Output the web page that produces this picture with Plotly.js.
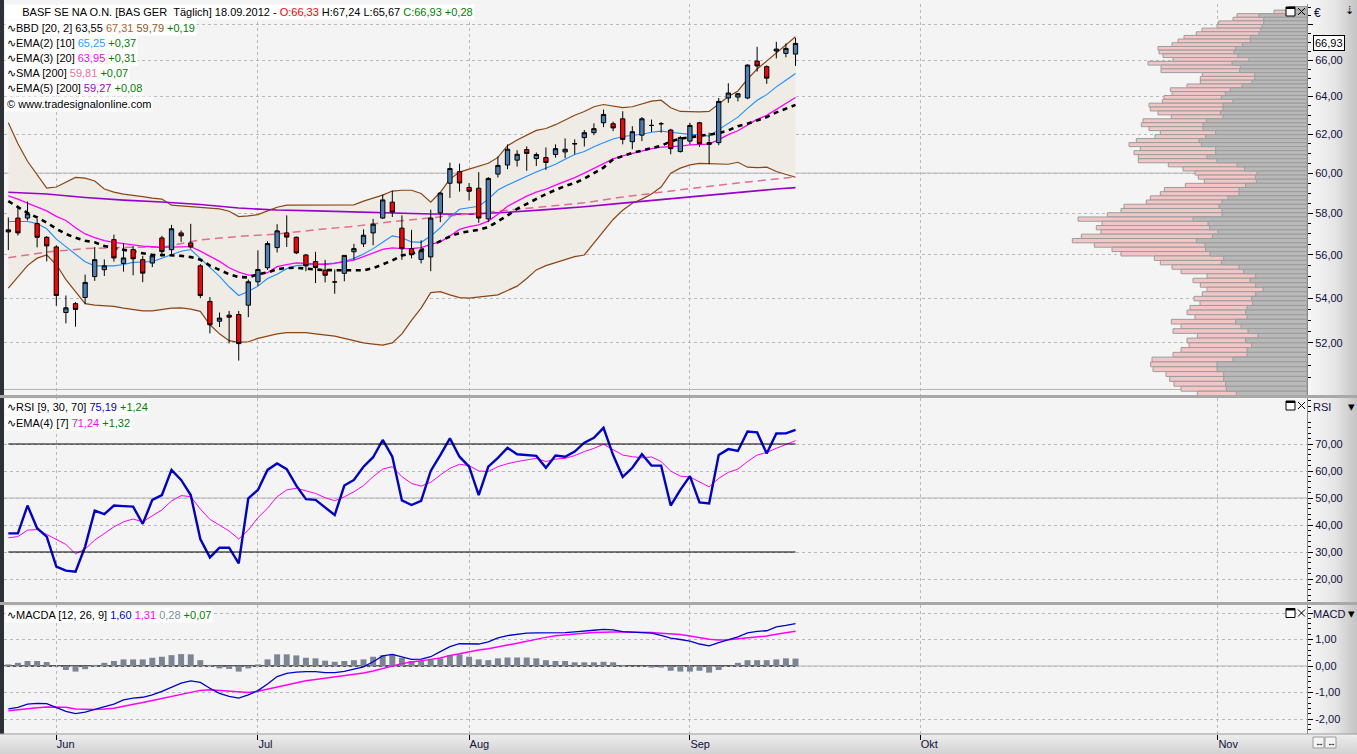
<!DOCTYPE html>
<html><head><meta charset="utf-8">
<script src="https://cdn.plot.ly/plotly-3.0.1.min.js"></script>
<style>
html,body{margin:0;padding:0;width:1357px;height:754px;overflow:hidden;background:#f4f4f4;}
#bgLeft{position:absolute;left:0;top:0;width:4px;height:754px;background:#2d3135;}
#bgRight{position:absolute;left:1307px;top:0;width:50px;height:734px;background:linear-gradient(to right,#f7f7f7,#e6e6e6 55%,#c4c4c4);}
#bgBottom{position:absolute;left:0;top:734px;width:1357px;height:20px;background:linear-gradient(to bottom,#eeeeee,#d2d2d2);}
#chart{position:absolute;left:0;top:0;width:1357px;height:754px;}
</style></head>
<body>
<div id="bgLeft"></div><div id="bgRight"></div><div id="bgBottom"></div>
<div id="chart"></div>
<script>
// ---------- data ----------
const open = [57.20,57.77,57.77,57.50,56.84,56.38,53.35,53.75,54.03,54.99,
 55.31,56.73,55.60,56.26,55.78,55.62,56.81,56.25,57.05,56.57,
 55.49,53.85,52.96,53.23,53.26,53.68,54.75,55.40,56.35,57.05,
 56.84,56.00,55.69,55.29,54.74,55.14,56.15,56.53,57.05,57.77,
 58.55,57.28,56.30,55.79,55.91,58.02,59.49,60.07,59.28,59.24,
 57.73,59.95,60.41,60.66,61.20,60.74,60.79,60.95,61.08,61.49,
 61.82,62.08,62.60,62.55,62.81,61.61,61.95,62.46,62.55,62.22,
 61.10,61.64,62.60,61.56,61.56,63.92,63.97,63.92,65.94,65.63,
 66.50,66.37,66.33];
const high = [57.80,58.35,58.58,57.73,56.90,56.46,54.12,53.82,55.08,56.38,
 55.79,56.97,56.57,56.42,55.96,56.05,56.91,57.44,57.17,57.49,
 55.57,54.05,53.35,53.42,53.42,54.85,56.22,56.65,57.47,57.90,
 56.88,56.05,56.15,55.77,55.32,56.00,56.53,57.22,57.73,58.93,
 59.12,57.90,57.20,56.70,58.18,59.05,60.53,60.48,59.50,60.05,
 59.80,60.85,61.47,61.17,61.37,61.05,61.31,61.47,61.78,61.73,
 62.22,62.57,63.30,62.66,63.21,62.42,62.90,62.77,62.64,62.28,
 61.90,62.60,62.65,62.08,63.92,64.72,64.20,65.75,66.74,65.70,
 67.02,66.93,67.24];
const low = [56.23,56.93,57.65,56.36,55.70,53.66,52.86,52.72,53.73,54.79,
 55.02,55.69,55.22,55.05,54.73,55.43,55.91,56.05,56.62,56.30,
 54.00,52.42,52.70,51.98,51.23,53.14,54.55,55.30,56.12,56.38,
 56.04,55.24,54.69,54.72,54.20,54.77,55.77,56.38,56.46,57.73,
 57.82,55.77,55.84,55.60,55.24,57.57,58.76,59.07,58.63,57.54,
 57.57,59.78,60.20,60.33,60.12,60.36,60.16,60.79,60.76,60.96,
 61.36,61.95,62.37,62.16,61.47,61.22,61.64,62.12,62.08,60.96,
 61.05,61.47,61.34,60.45,61.43,63.66,63.74,63.86,65.36,64.69,
 66.09,66.15,65.67];
const close = [57.10,57.05,57.98,56.84,56.43,54.12,53.56,53.49,54.72,55.78,
 55.49,55.86,55.86,55.82,55.15,55.96,56.16,57.25,56.91,56.38,
 54.12,52.80,53.10,53.14,51.97,54.75,55.32,56.54,57.15,56.85,
 56.10,55.49,55.41,55.05,54.74,55.98,56.30,56.94,57.47,58.66,
 58.06,56.30,56.01,56.20,57.77,59.00,60.23,59.50,59.09,57.77,
 59.73,60.39,61.22,60.96,61.00,60.95,60.54,61.25,61.22,61.51,
 62.08,62.29,63.04,62.33,61.73,62.13,62.81,62.46,62.55,61.25,
 61.82,62.46,61.50,61.47,63.74,64.19,64.15,65.72,65.67,65.00,
 66.61,66.65,66.93];

const bbUpper = [62.6,61.5,60.6,59.95,59.25,59.3,59.55,59.78,59.75,59.6,
 59.2,59.05,58.95,58.9,58.82,58.75,58.7,58.4,58.36,58.32,
 58.3,58.26,58.22,58.1,57.84,57.88,57.94,58.12,58.3,58.4,
 58.4,58.4,58.4,58.4,58.4,58.4,58.42,58.6,58.75,58.9,
 59.1,59.14,59.14,58.98,58.55,59.04,59.7,60.05,60.2,60.35,
 60.5,60.8,61.4,61.7,61.95,62.2,62.3,62.5,62.75,63.0,
 63.2,63.45,63.57,63.5,63.4,63.45,63.6,63.75,63.8,63.4,
 63.2,63.18,63.18,63.2,63.6,64.0,64.3,64.95,65.5,65.95,
 66.4,66.85,67.31];
const bbLower = [54.46,55.0,55.5,55.85,56.0,55.55,54.85,54.3,53.75,53.68,
 53.65,53.63,53.55,53.48,53.42,53.42,53.48,53.55,53.56,53.5,
 53.4,52.8,52.4,52.1,52.02,52.05,52.2,52.3,52.4,52.45,
 52.45,52.45,52.4,52.35,52.3,52.2,52.1,52.0,51.95,51.9,
 52.0,52.4,53.0,53.55,54.25,54.3,54.15,54.02,54.0,54.05,
 54.1,54.15,54.35,54.55,54.9,55.3,55.5,55.65,55.8,55.92,
 56.0,56.55,57.15,57.7,58.15,58.5,58.7,58.95,59.3,60.0,
 60.25,60.42,60.49,60.47,60.45,60.45,60.55,60.3,60.28,60.3,
 60.08,59.95,59.79];
const bbMid = [58.6,58.3,58.02,57.8,57.55,57.25,57.0,56.82,56.68,56.6,
 56.43,56.33,56.25,56.18,56.08,56.0,56.0,55.99,55.96,55.9,
 55.78,55.5,55.3,55.1,54.97,54.95,55.1,55.18,55.33,55.39,
 55.4,55.35,55.32,55.29,55.29,55.29,55.28,55.28,55.38,55.55,
 55.74,55.98,56.06,56.22,56.44,56.66,56.88,57.05,57.13,57.2,
 57.33,57.6,57.9,58.22,58.47,58.7,58.95,59.15,59.35,59.5,
 59.72,60.0,60.28,60.7,60.88,61.03,61.15,61.27,61.4,61.62,
 61.77,61.84,61.9,61.97,62.05,62.2,62.42,62.55,62.72,62.9,
 63.15,63.36,63.55];
const ema10 = [57.6,57.6,57.6,57.5,57.25,56.75,56.38,56.0,55.68,55.49,
 55.49,55.49,55.55,55.65,55.67,55.69,55.85,56.0,56.18,56.26,
 55.84,55.45,55.0,54.52,54.12,54.3,54.55,54.9,55.1,55.35,
 55.5,55.53,55.57,55.6,55.62,55.7,55.84,56.05,56.3,56.6,
 56.91,56.82,56.62,56.6,56.9,57.3,57.8,58.2,58.28,58.35,
 58.7,59.15,59.4,59.6,59.84,60.05,60.25,60.45,60.7,60.95,
 61.1,61.35,61.55,61.75,61.88,61.93,62.0,62.1,62.16,62.1,
 62.03,61.99,61.97,61.9,62.24,62.59,62.9,63.36,63.8,64.1,
 64.52,64.88,65.25];
const ema20 = [58.86,58.7,58.5,58.3,58.12,57.85,57.65,57.3,57.0,56.82,
 56.68,56.6,56.53,56.46,56.42,56.39,56.36,56.37,56.4,56.4,
 56.18,55.95,55.7,55.4,55.2,55.06,55.08,55.17,55.45,55.55,
 55.63,55.6,55.56,55.55,55.6,55.68,55.76,55.92,56.1,56.27,
 56.34,56.3,56.3,56.35,56.5,56.62,56.9,57.22,57.35,57.44,
 57.62,57.95,58.35,58.6,58.85,59.05,59.2,59.4,59.58,59.77,
 60.0,60.25,60.5,60.72,60.88,61.0,61.15,61.25,61.33,61.35,
 61.38,61.44,61.46,61.48,61.72,61.98,62.18,62.48,62.78,62.99,
 63.32,63.64,63.95];
const slowIdx = [0,4,8,12,16,20,24,28,32,36,40,44,48,52,56,60,64,68,72,76,80,82];
const sma200 = [55.87,56.14,56.3,56.36,56.36,56.72,56.88,57.0,57.2,57.37,57.6,57.78,57.95,58.12,58.33,58.52,58.8,59.05,59.28,59.5,59.7,59.81];
const ema200 = [59.04,58.95,58.78,58.65,58.56,58.43,58.26,58.16,58.12,58.06,58.02,57.97,57.96,58.05,58.18,58.32,58.5,58.68,58.86,59.04,59.2,59.27];

const rsi = [36.9,36.9,47.2,38.8,35.7,24.6,23.1,22.7,32.0,45.3,
 44.0,47.2,47.0,46.8,40.4,49.3,51.1,60.4,56.7,51.1,
 34.8,28.0,31.6,31.6,25.8,49.9,53.0,60.4,62.8,60.7,
 54.6,49.6,49.3,46.4,43.7,54.6,56.7,61.6,65.1,71.5,
 65.3,49.1,47.4,48.9,60.0,65.9,72.1,65.3,61.6,51.1,
 61.6,64.9,68.6,66.2,65.9,65.6,61.2,65.7,65.3,67.2,
 70.5,72.3,76.0,65.9,57.8,61.2,66.2,62.0,62.0,47.2,
 53.0,58.1,48.4,48.0,65.9,68.1,67.4,74.6,74.3,66.5,
 73.9,73.95,75.19];
const rsiEma = [35.3,35.7,38.1,38.3,36.5,34.7,32.8,29.3,31.1,34.4,
 36.8,39.3,41.2,42.2,41.2,43.5,45.6,48.9,50.9,50.5,
 45.9,42.1,40.0,37.8,34.8,38.1,42.7,46.2,50.5,53.0,
 53.6,52.6,51.7,50.1,49.0,50.4,52.3,54.6,57.9,60.7,
 61.6,57.9,55.4,54.4,55.8,58.5,61.0,62.5,62.0,60.0,
 59.8,61.6,62.7,63.5,64.0,64.7,63.5,64.4,64.7,65.7,
 67.2,68.4,69.9,68.0,65.9,65.3,64.9,65.2,63.5,60.0,
 58.1,57.8,55.8,54.1,57.3,59.5,60.7,63.5,65.9,66.9,
 68.4,69.92,71.24];

const macd = [-1.62,-1.56,-1.44,-1.41,-1.42,-1.56,-1.71,-1.80,-1.74,-1.64,
 -1.55,-1.44,-1.28,-1.21,-1.18,-1.09,-0.96,-0.81,-0.65,-0.56,
 -0.62,-0.84,-1.03,-1.15,-1.21,-1.09,-0.93,-0.68,-0.40,-0.28,
 -0.23,-0.21,-0.21,-0.25,-0.25,-0.20,-0.11,-0.03,0.16,0.38,
 0.44,0.35,0.25,0.26,0.35,0.54,0.73,0.84,0.84,0.83,
 0.91,1.06,1.15,1.20,1.24,1.25,1.25,1.25,1.26,1.29,
 1.31,1.35,1.38,1.36,1.30,1.28,1.26,1.24,1.16,1.05,
 1.00,0.94,0.83,0.76,0.88,0.98,1.10,1.25,1.31,1.33,
 1.48,1.53,1.60];
const signal = [-1.69,-1.65,-1.60,-1.58,-1.55,-1.55,-1.56,-1.62,-1.64,-1.64,
 -1.62,-1.59,-1.52,-1.46,-1.38,-1.30,-1.22,-1.16,-1.08,-0.99,
 -0.92,-0.90,-0.92,-0.95,-0.97,-1.00,-0.95,-0.87,-0.80,-0.71,
 -0.64,-0.56,-0.51,-0.46,-0.42,-0.38,-0.31,-0.26,-0.19,-0.09,
 0.01,0.09,0.15,0.21,0.25,0.30,0.40,0.46,0.54,0.60,
 0.65,0.71,0.79,0.86,0.94,1.01,1.08,1.14,1.18,1.21,
 1.24,1.26,1.28,1.28,1.28,1.28,1.28,1.26,1.24,1.21,
 1.19,1.13,1.06,1.01,0.98,0.99,1.03,1.06,1.10,1.13,
 1.20,1.26,1.31];
const hist = [0.06,0.12,0.19,0.19,0.15,-0.01,-0.15,-0.21,-0.12,0.04,
 0.12,0.19,0.25,0.25,0.25,0.31,0.35,0.41,0.45,0.44,
 0.22,0.04,-0.09,-0.11,-0.21,-0.09,0.06,0.25,0.44,0.44,
 0.40,0.31,0.29,0.20,0.16,0.19,0.22,0.25,0.35,0.41,
 0.44,0.31,0.19,0.19,0.25,0.29,0.41,0.44,0.35,0.25,
 0.22,0.29,0.32,0.32,0.32,0.29,0.22,0.19,0.19,0.14,
 0.14,0.14,0.16,0.14,0.04,0.00,0.00,-0.06,-0.06,-0.18,
 -0.21,-0.21,-0.18,-0.25,-0.15,0.00,0.12,0.22,0.22,0.22,
 0.25,0.29,0.28];

// volume profile: bins from the top (price ~68.94) down in steps of ~0.208
const profileTop = 68.94, profileStep = 0.2078;
const volTotal = [54,99,210,222,265,270,315,332,369,387,405,447,444,432,402,477,438,438,314,320,
 320,360,410,405,429,434,474,470,447,407,492,497,474,440,456,512,534,500,519,506,
 506,416,372,336,326,308,365,428,440,470,482,549,558,599,687,615,632,618,677,704,
 638,585,558,458,440,405,378,300,342,320,300,314,339,321,351,360,336,407,378,402,
 329,360,354,378,402,465,469,462,423,412,399,378,329];
const volDown = [40,62,144,130,130,135,139,144,170,170,194,215,219,207,174,225,200,202,157,157,
 165,195,230,245,257,222,252,252,260,252,302,312,312,274,304,324,317,274,274,300,
 270,210,187,150,155,152,184,204,204,237,255,264,255,255,342,297,292,267,284,332,
 306,304,291,250,257,204,190,154,171,154,132,154,166,163,180,184,180,214,198,177,
 147,184,166,180,180,222,270,270,250,250,244,242,212];

const monthPos = [5,26,48,71,95,126];
const monthLbl = ['Jun','Jul','Aug','Sep','Okt','Nov'];
const priceTicks = [52,54,56,58,60,62,64,66,68];
const rsiTicks = [20,30,40,50,60,70];
const macdTicks = [-2,-1,0,1,2];

// ---------- geometry ----------
const W=1357,H=754,ML=4,MR=50,MT=4,MB=20;
const PW=W-ML-MR, PH=H-MT-MB;
const px = x => (x-ML)/PW;
const py = y => (H-MB-y)/PH;
const n = close.length;
const idx = close.map((_,i)=>i);
const fmt = v => (v<0?'-':'')+Math.abs(v).toFixed(2).replace('.',',');
const L10 = Math.log10;
const priceRange = [L10(49.767), L10(69.19)];
const xRange = [-0.45,135.28];

const FONT = 'Liberation Sans, Arial, sans-serif';
const AX = '#10103a';

// ---------- traces ----------
const traces = [];
traces.push({type:'scatter',mode:'lines',x:idx,y:bbLower,xaxis:'x',yaxis:'y',line:{color:'#8b4513',width:1.2},hoverinfo:'skip'});
traces.push({type:'scatter',mode:'lines',x:idx,y:bbUpper,xaxis:'x',yaxis:'y',fill:'tonexty',fillcolor:'#efebe5',line:{color:'#8b4513',width:1.2},hoverinfo:'skip'});
traces.push({type:'scatter',mode:'lines',x:slowIdx,y:ema200,xaxis:'x',yaxis:'y',line:{color:'#9a00cc',width:1.6},hoverinfo:'skip'});
traces.push({type:'scatter',mode:'lines',x:slowIdx,y:sma200,xaxis:'x',yaxis:'y',line:{color:'#e06f90',width:1.5,dash:'8px,5px'},hoverinfo:'skip'});
traces.push({type:'scatter',mode:'lines',x:idx,y:ema10,xaxis:'x',yaxis:'y',line:{color:'#1e90ff',width:1.1},hoverinfo:'skip'});
traces.push({type:'scatter',mode:'lines',x:idx,y:ema20,xaxis:'x',yaxis:'y',line:{color:'#ff00ff',width:1.3},hoverinfo:'skip'});
traces.push({type:'scatter',mode:'lines',x:idx,y:bbMid,xaxis:'x',yaxis:'y',line:{color:'#000000',width:2.6,dash:'5px,4.6px'},hoverinfo:'skip'});
// candles on an overlay subplot so they sit above the band fill
traces.push({type:'candlestick',x:idx,open:open,high:high,low:low,close:close,xaxis:'x3',yaxis:'y5',
  increasing:{line:{color:'#000000',width:1},fillcolor:'#4a80b4'},
  decreasing:{line:{color:'#000000',width:1},fillcolor:'#ff0000'},
  whiskerwidth:0,hoverinfo:'skip'});

// RSI
traces.push({type:'scatter',mode:'lines',x:idx,y:rsiEma,xaxis:'x',yaxis:'y2',line:{color:'#ff00ff',width:1},hoverinfo:'skip'});
traces.push({type:'scatter',mode:'lines',x:idx,y:rsi,xaxis:'x',yaxis:'y2',line:{color:'#0000cc',width:2.4},hoverinfo:'skip'});

// MACD
traces.push({type:'bar',x:idx,y:hist,xaxis:'x',yaxis:'y3',marker:{color:'#7b8593',line:{width:0}},width:0.62,hoverinfo:'skip'});
traces.push({type:'scatter',mode:'lines',x:idx,y:signal,xaxis:'x',yaxis:'y3',line:{color:'#ff00ff',width:1.5},hoverinfo:'skip'});
traces.push({type:'scatter',mode:'lines',x:idx,y:macd,xaxis:'x',yaxis:'y3',line:{color:'#0000cc',width:1.3},hoverinfo:'skip'});

// volume profile (overlay axes: x2 reversed, y4 = log10 price, linear)
const binC = volTotal.map((_,k)=>profileTop - k*profileStep);
const binY = binC.map(c=>(L10(c+profileStep*0.5)+L10(c-profileStep*0.5))/2);
const binW = binC.map(c=>L10(c+profileStep*0.5)-L10(c-profileStep*0.5));
traces.push({type:'bar',orientation:'h',x:volTotal,y:binY,width:binW,xaxis:'x2',yaxis:'y4',
  marker:{color:'#f2c6c6',line:{color:'#9c9c9c',width:1}},hoverinfo:'skip'});
traces.push({type:'bar',orientation:'h',x:volDown,y:binY,width:binW,xaxis:'x2',yaxis:'y4',
  marker:{color:'#b9b9b9',line:{color:'#9c9c9c',width:1}},hoverinfo:'skip'});

// ---------- minor ticks ----------
const minorP=[]; for(let v=50;v<=69;v+=0.5) if(v%2!==0) minorP.push(v);
const minorR=[]; for(let v=12;v<=86;v+=2) if(v%10!==0) minorR.push(v);
const minorM=[]; for(let v=-2.4;v<=2.3;v+=0.2){const r=Math.round(v*10)/10; if(Math.abs(r-Math.round(r))>0.01) minorM.push(r);}

// ---------- shapes ----------
const shapes = [];
[50,60].forEach(v=>shapes.push({type:'line',xref:'paper',yref:'y4',x0:0,x1:1,y0:L10(v),y1:L10(v),line:{color:'#b3b3b3',width:1},layer:'below'}));
shapes.push({type:'line',xref:'paper',yref:'y2',x0:0,x1:1,y0:50,y1:50,line:{color:'#b3b3b3',width:1},layer:'below'});
shapes.push({type:'line',xref:'paper',yref:'y3',x0:0,x1:1,y0:0,y1:0,line:{color:'#b3b3b3',width:1},layer:'below'});
[30,70].forEach(v=>shapes.push({type:'line',xref:'x',yref:'y2',x0:idx[0],x1:idx[n-1],y0:v,y1:v,line:{color:'#000000',width:1.2}}));
shapes.push({type:'line',xref:'x',yref:'y3',x0:xRange[0],x1:idx[n-1],y0:0,y1:0,line:{color:'#595959',width:2},layer:'below'});
[[395,398],[602,605]].forEach(([a,b])=>shapes.push({type:'rect',xref:'paper',yref:'paper',x0:px(0),x1:px(W),y0:py(b),y1:py(a),fillcolor:'#a8a8a8',line:{width:0}}));
shapes.push({type:'line',xref:'paper',yref:'paper',x0:px(0),x1:px(W),y0:py(734),y1:py(734),line:{color:'#9a9a9a',width:1}});
// symbol icon (candle glyph) in header
shapes.push({type:'line',xref:'paper',yref:'paper',x0:px(11.5),x1:px(11.5),y0:py(6),y1:py(19),line:{color:'#000',width:1}});
shapes.push({type:'rect',xref:'paper',yref:'paper',x0:px(9.5),x1:px(13.5),y0:py(9),y1:py(16),fillcolor:'#ffffff',line:{color:'#000',width:1}});
function winIcons(yc){
  shapes.push({type:'rect',xref:'paper',yref:'paper',x0:px(1286),x1:px(1295),y0:py(yc+4.5),y1:py(yc-4.5),fillcolor:'#ffffff',line:{color:'#000',width:1}});
  shapes.push({type:'line',xref:'paper',yref:'paper',x0:px(1286),x1:px(1295),y0:py(yc-3.5),y1:py(yc-3.5),line:{color:'#000',width:2}});
  shapes.push({type:'line',xref:'paper',yref:'paper',x0:px(1298),x1:px(1305),y0:py(yc-3.5),y1:py(yc+3.5),line:{color:'#000',width:1}});
  shapes.push({type:'line',xref:'paper',yref:'paper',x0:px(1298),x1:px(1305),y0:py(yc+3.5),y1:py(yc-3.5),line:{color:'#000',width:1}});
}
winIcons(11.5); winIcons(405.5); winIcons(613);
// scroll buttons bottom right
[[1313,1324],[1325,1336]].forEach(([a,b])=>shapes.push({type:'rect',xref:'paper',yref:'paper',x0:px(a),x1:px(b),y0:py(748),y1:py(737),fillcolor:'#f4f4f4',line:{color:'#9a9a9a',width:1}}));

// ---------- annotations ----------
const G='#008000';
const sp=(c,t)=>`<span style="color:${c}">${t}</span>`;
const ann = [];
function leg(yPix, html, xPix){
  ann.push({xref:'paper',yref:'paper',x:px(xPix||5),y:py(yPix),xanchor:'left',yanchor:'middle',align:'left',
    text:html,showarrow:false,bgcolor:'#ffffff',borderpad:1,font:{family:FONT,size:11,color:'#000'}});
}
const NB='\u00a0';
leg(12.5, NB+NB+NB+NB+NB+'BASF SE NA O.N. [BAS GER'+NB+NB+'Täglich] 18.09.2012 - '+sp('#ff0000','O:'+fmt(open[n-1]))+' H:'+fmt(high[n-1])+' L:'+fmt(low[n-1])+' '+sp(G,'C:'+fmt(close[n-1])+' +'+fmt(close[n-1]-close[n-2])));
leg(28, '∿BBD [20, 2] 63,55 '+sp('#b0602a','67,31')+' '+sp('#8b5a1a','59,79')+' '+sp(G,'+0,19'));
leg(43, '∿EMA(2) [10] '+sp('#3399ff','65,25')+' '+sp(G,'+0,37'));
leg(58, '∿EMA(3) [20] '+sp('#ff00ff','63,95')+' '+sp(G,'+0,31'));
leg(73, '∿SMA [200] '+sp('#e8739a','59,81')+' '+sp(G,'+0,07'));
leg(88, '∿EMA(5) [200] '+sp('#9900cc','59,27')+' '+sp(G,'+0,08'));
leg(104, '© www.tradesignalonline.com');
leg(407.5, '∿RSI [9, 30, 70] '+sp('#0000cc','75,19')+' '+sp(G,'+1,24'));
leg(422.5, '∿EMA(4) [7] '+sp('#ff00ff','71,24')+' '+sp(G,'+1,32'));
leg(614.5, '∿MACDA [12, 26, 9] '+sp('#0000cc','1,60')+' '+sp('#ff00ff','1,31')+' '+sp('#8090a0','0,28')+' '+sp(G,'+0,07'));

function axLbl(xPix,yPix,t,size,col){ann.push({xref:'paper',yref:'paper',x:px(xPix),y:py(yPix),xanchor:'left',yanchor:'middle',text:t,showarrow:false,font:{family:FONT,size:size||11,color:col||AX}});}
axLbl(1312,13,'€',12);
axLbl(1311,407,'RSI');
axLbl(1311,614,'MACD');
axLbl(1346,406,'▾',13,'#000'); axLbl(1346,613,'▾',13,'#000');
axLbl(1343,10,'⇣',11,'#000');
axLbl(1313,742.5,'↔',9,'#000'); axLbl(1325,742.5,'↔',9,'#000');
ann.push({xref:'paper',yref:'y4',x:px(1313),y:L10(close[n-1]),xanchor:'left',yanchor:'middle',text:fmt(close[n-1]),showarrow:false,
  bgcolor:'#ffffff',bordercolor:'#000000',borderwidth:1,borderpad:1,font:{family:FONT,size:11,color:'#000'}});

// ---------- layout ----------
const gridC='#b9b9b9';
const yCommon = {side:'right',anchor:'x',ticks:'outside',ticklen:5,tickcolor:'#000',tickwidth:1,showgrid:true,gridcolor:gridC,griddash:'dot',gridwidth:1,
  zeroline:false,showline:true,linecolor:'#8a8a8a',linewidth:1,tickfont:{family:FONT,size:11,color:AX},fixedrange:true};
const layout = {
  width:W,height:H,margin:{l:ML,r:MR,t:MT,b:MB},
  paper_bgcolor:'rgba(0,0,0,0)',plot_bgcolor:'#f4f4f4',
  showlegend:false,hovermode:false,separators:',.',
  barmode:'overlay',boxgap:0.36,
  xaxis:{domain:[0,1],range:xRange,anchor:'y3',tickvals:monthPos,ticktext:monthLbl,ticks:'outside',ticklen:5,tickcolor:'#000',
    ticklabelposition:'outside right',showgrid:true,gridcolor:gridC,griddash:'dot',gridwidth:1,zeroline:false,showline:false,
    tickfont:{family:FONT,size:11,color:AX},rangeslider:{visible:false},fixedrange:true},
  xaxis2:{overlaying:'x',anchor:'y4',range:[PW*3,0],visible:false,fixedrange:true},
  xaxis3:{overlaying:'x',anchor:'y5',range:xRange,visible:false,rangeslider:{visible:false},fixedrange:true},
  yaxis:Object.assign({},yCommon,{domain:[py(395),1],type:'log',range:priceRange,tickvals:priceTicks,
    ticktext:priceTicks.map(v=>v===68?'':fmt(v)),minor:{tickvals:minorP,ticks:'outside',ticklen:3,tickcolor:'#000',showgrid:false}}),
  yaxis2:Object.assign({},yCommon,{domain:[py(602),py(398)],range:[11.48,87.04],tickvals:rsiTicks,ticktext:rsiTicks.map(fmt),
    minor:{tickvals:minorR,ticks:'outside',ticklen:3,tickcolor:'#000',showgrid:false}}),
  yaxis3:Object.assign({},yCommon,{domain:[0,py(605)],range:[-2.566,2.302],tickvals:macdTicks,ticktext:macdTicks.map(v=>v===2?'':fmt(v)),
    minor:{tickvals:minorM,ticks:'outside',ticklen:3,tickcolor:'#000',showgrid:false}}),
  yaxis4:{overlaying:'y',anchor:'x2',range:priceRange,visible:false,fixedrange:true},
  yaxis5:{overlaying:'y',anchor:'x3',type:'log',range:priceRange,visible:false,fixedrange:true},
  shapes:shapes,annotations:ann
};
Plotly.newPlot('chart',traces,layout,{staticPlot:true,displayModeBar:false});
</script>
</body></html>
